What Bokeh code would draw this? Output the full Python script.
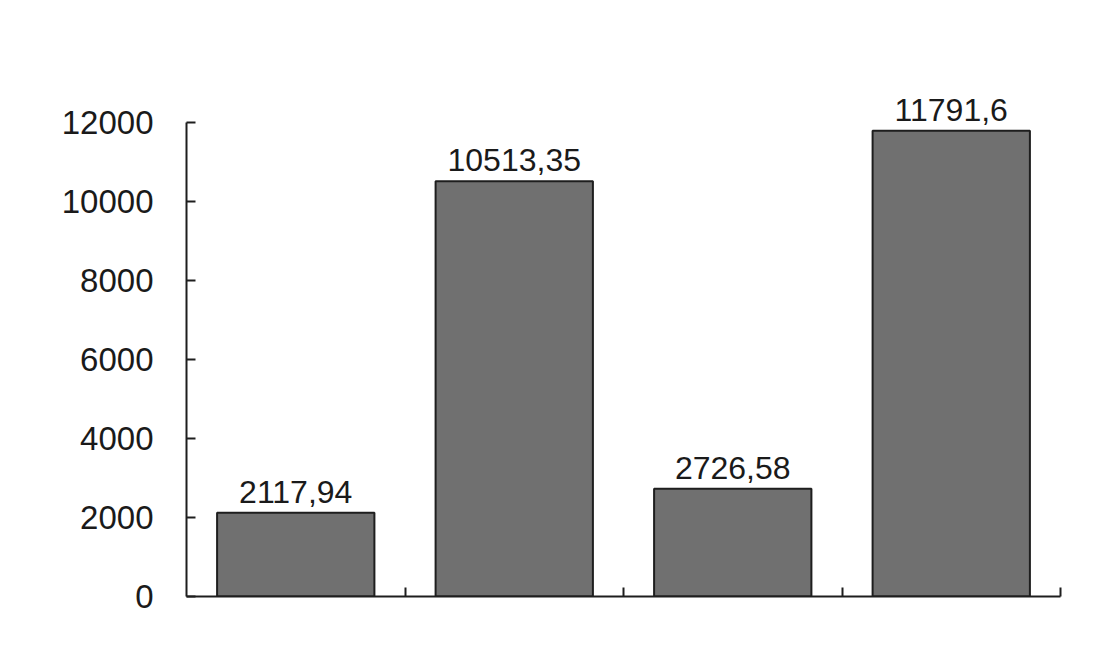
from bokeh.plotting import figure
from bokeh.models import Range1d, FixedTicker, ColumnDataSource
from bokeh.embed import file_html
from bokeh.resources import INLINE
from bokeh.core.properties import value

categories = ["1", "2", "3", "4"]
values = [2117.94, 10513.35, 2726.58, 11791.6]
labels = ["2117,94", "10513,35", "2726,58", "11791,6"]
y_ticks = [0, 2000, 4000, 6000, 8000, 10000, 12000]

x = [i + 0.5 for i in range(len(categories))]
src = ColumnDataSource(dict(x=x, top=values, label=labels))

p = figure(width=1103, height=646, output_backend="svg", toolbar_location=None,
           x_range=Range1d(0, len(categories)), y_range=Range1d(0, 14000),
           min_border_left=186, min_border_right=43, min_border_top=43, min_border_bottom=50)
p.outline_line_color = None
p.grid.visible = False
p.background_fill_color = "white"
p.border_fill_color = "white"

p.vbar(x="x", top="top", width=0.72, bottom=0, source=src,
       fill_color="#707070", line_color="#1e1e1e", line_width=2)
p.text(x="x", y="top", text="label", source=src, text_align="center",
       text_baseline="bottom", y_offset=-10,
       text_font=value("Liberation Sans"), text_font_size="32px", text_color="#1a1a1a")

ya = p.yaxis[0]
ya.ticker = FixedTicker(ticks=y_ticks)
ya.bounds = (0, 12000)
ya.major_tick_in = 9
ya.major_tick_out = 0
ya.minor_tick_line_color = None
ya.axis_line_color = "#1e1e1e"
ya.axis_line_width = 2
ya.major_tick_line_color = "#1e1e1e"
ya.major_tick_line_width = 2
ya.major_label_standoff = 33
ya.major_label_text_font = "Liberation Sans"
ya.major_label_text_font_size = "33px"
ya.major_label_text_color = "#1a1a1a"

xa = p.xaxis[0]
xa.ticker = FixedTicker(ticks=list(range(1, len(categories) + 1)))
xa.major_tick_in = 9
xa.major_tick_out = 0
xa.minor_tick_line_color = None
xa.axis_line_color = "#1e1e1e"
xa.axis_line_width = 2
xa.major_tick_line_color = "#1e1e1e"
xa.major_tick_line_width = 2
xa.major_label_text_font_size = "0px"
xa.major_label_text_color = None

open("out.html", "w").write(file_html(p, INLINE))
